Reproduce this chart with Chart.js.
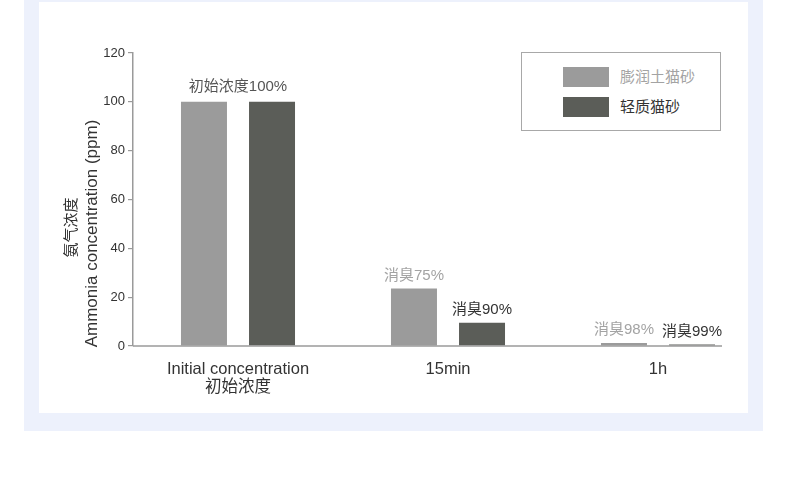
<!DOCTYPE html>
<html>
<head>
<meta charset="utf-8">
<title>Ammonia concentration</title>
<script src="https://cdn.jsdelivr.net/npm/chart.js@4.4.1/dist/chart.umd.min.js"></script>
<style>
  html, body { margin: 0; padding: 0; background: #fff; }
  body { width: 790px; height: 481px; position: relative; overflow: hidden;
         font-family: "Liberation Sans", "Noto Sans CJK SC", sans-serif; }
  #outer { position: absolute; left: 24px; top: 0; width: 739px; height: 431px; background: #edf1fc; }
  #inner { position: absolute; left: 39px; top: 2px; width: 709px; height: 411px; background: #fff; }
  #wrap { position: absolute; left: 0; top: 0; width: 790px; height: 481px; }
  #legend { position: absolute; left: 521px; top: 52px; width: 198px; height: 77px;
            border: 1px solid #a8a8a8; background: #fff; }
  .item { position: absolute; left: 41px; height: 20px; }
  .swatch { position: absolute; left: 0; top: 0; width: 46px; height: 20px; }
  .name { position: absolute; left: 57px; top: 0; line-height: 20px; font-size: 15px; white-space: nowrap; }
</style>
</head>
<body>
<div id="outer"></div>
<div id="inner"></div>
<div id="wrap"><canvas id="chart" width="790" height="481"></canvas></div>
<div id="legend"></div>

<script>
// ---------------------------------------------------------------------------
// Data
// ---------------------------------------------------------------------------

var categories = [['Initial concentration', '初始浓度'], '15min', '1h'];
var seriesNames = ['膨润土猫砂', '轻质猫砂'];
var bentoniteValues = [100, 23.5, 1.2];
var lightValues = [100, 9.5, 0.6];
var groupNotes = ['初始浓度100%', '', ''];
var bentoniteNotes = ['', '消臭75%', '消臭98%'];
var lightNotes = ['', '消臭90%', '消臭99%'];
var yTitleLines = ['氨气浓度', 'Ammonia concentration (ppm)'];

var seriesColors = ['#9b9b9b', '#5b5d58'];
var noteColors = ['#a3a3a3', '#333333'];
var axisColor = '#9a9a9a';
var fontFamily = '"Liberation Sans", "Noto Sans CJK SC", sans-serif';

// ---------------------------------------------------------------------------
// Legend (HTML, built from the series arrays)
// ---------------------------------------------------------------------------

var legend = document.getElementById('legend');
seriesNames.forEach(function (name, i) {
  var item = document.createElement('div');
  item.className = 'item';
  item.style.top = (14 + i * 30) + 'px';
  var sw = document.createElement('div');
  sw.className = 'swatch';
  sw.style.background = seriesColors[i];
  var txt = document.createElement('div');
  txt.className = 'name';
  txt.style.color = noteColors[i];
  txt.textContent = name;
  item.appendChild(sw);
  item.appendChild(txt);
  legend.appendChild(item);
});

// ---------------------------------------------------------------------------
// Plugins: short x-axis line, bar notes, rotated y title
// ---------------------------------------------------------------------------

var axisLinePlugin = {
  id: 'axisLine',
  afterDatasetsDraw: function (chart) {
    var ctx = chart.ctx;
    var area = chart.chartArea;
    var meta = chart.getDatasetMeta(chart.data.datasets.length - 1);
    var last = meta.data[meta.data.length - 1];
    var end = last.x + last.width / 2 + 7;
    ctx.save();
    ctx.strokeStyle = axisColor;
    ctx.lineWidth = 1.5;
    ctx.beginPath();
    ctx.moveTo(area.left, area.bottom);
    ctx.lineTo(end, area.bottom);
    ctx.stroke();
    ctx.restore();
  }
};

var notesPlugin = {
  id: 'notes',
  afterDatasetsDraw: function (chart) {
    var ctx = chart.ctx;
    var notes = [bentoniteNotes, lightNotes];
    ctx.save();
    ctx.font = '15px ' + fontFamily;
    ctx.textAlign = 'center';
    ctx.textBaseline = 'middle';

    // per-bar notes
    notes.forEach(function (list, d) {
      var meta = chart.getDatasetMeta(d);
      list.forEach(function (text, i) {
        if (!text) return;
        var bar = meta.data[i];
        ctx.fillStyle = noteColors[d];
        ctx.fillText(text, bar.x, bar.y - 13);
      });
    });

    // notes centred over a whole group
    groupNotes.forEach(function (text, i) {
      if (!text) return;
      var a = chart.getDatasetMeta(0).data[i];
      var b = chart.getDatasetMeta(1).data[i];
      ctx.fillStyle = '#555555';
      ctx.fillText(text, (a.x + b.x) / 2, Math.min(a.y, b.y) - 15);
    });
    ctx.restore();
  }
};

var yTitlePlugin = {
  id: 'yTitle',
  afterDraw: function (chart) {
    var ctx = chart.ctx;
    var area = chart.chartArea;
    var cy = (area.top + area.bottom) / 2 + 28;
    ctx.save();
    ctx.fillStyle = '#333333';
    ctx.textAlign = 'center';
    ctx.textBaseline = 'middle';
    ctx.translate(area.left - 61, cy);
    ctx.rotate(-Math.PI / 2);
    ctx.font = '15px ' + fontFamily;
    ctx.fillText(yTitleLines[0], 0, 0);
    ctx.font = '17px ' + fontFamily;
    ctx.fillText(yTitleLines[1], -6, 20);
    ctx.restore();
  }
};

// ---------------------------------------------------------------------------
// Chart
// ---------------------------------------------------------------------------

new Chart(document.getElementById('chart'), {
  type: 'bar',
  data: {
    labels: categories,
    datasets: [
      {
        label: seriesNames[0],
        data: bentoniteValues,
        backgroundColor: seriesColors[0],
        categoryPercentage: 0.648,
        barPercentage: 0.676,
      },
      {
        label: seriesNames[1],
        data: lightValues,
        backgroundColor: seriesColors[1],
        categoryPercentage: 0.648,
        barPercentage: 0.676,
      },
    ],
  },
  options: {
    responsive: false,
    animation: false,
    layout: { padding: { top: 53, right: 27, bottom: 0, left: 0 } },
    plugins: {
      legend: { display: false },
      tooltip: { enabled: false },
    },
    scales: {
      x: {
        grid: { display: false },
        border: { display: false },
        ticks: {
          color: '#333333',
          padding: 6,
          maxRotation: 0,
          autoSkip: false,
          font: { family: fontFamily, size: 16.5, lineHeight: 1.1 },
        },
        afterFit: function (scale) { scale.height = 135; },
      },
      y: {
        min: 0,
        max: 120,
        ticks: {
          stepSize: 20,
          color: '#333333',
          padding: 3,
          font: { family: fontFamily, size: 13 },
        },
        grid: {
          drawOnChartArea: false,
          drawTicks: true,
          tickLength: 5,
          color: axisColor,
          lineWidth: 1.2,
        },
        border: { display: true, color: axisColor, width: 1.5 },
        afterFit: function (scale) { scale.width = 133; },
      },
    },
  },
  plugins: [axisLinePlugin, notesPlugin, yTitlePlugin],
});
</script>
</body>
</html>
